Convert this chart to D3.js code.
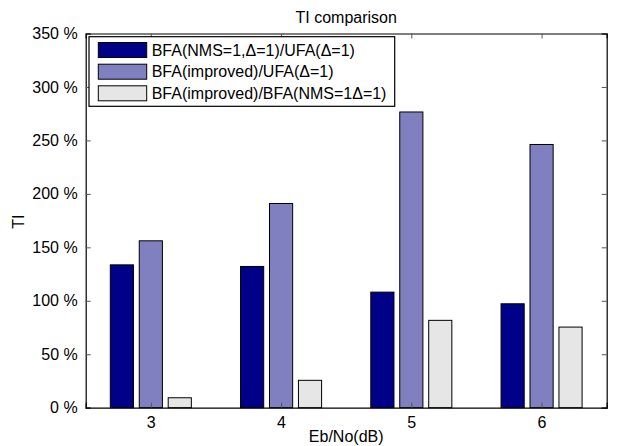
<!DOCTYPE html>
<html>
<head>
<meta charset="utf-8">
<script src="https://cdn.jsdelivr.net/npm/d3@7"></script>
<style>
  html, body { margin: 0; padding: 0; background: #fff; }
  text { font-family: "Liberation Sans", Arial, sans-serif; fill: #000; }
</style>
</head>
<body>
<svg id="chart" width="617" height="446"></svg>
<script>
// ---- data ----
const categories = [3, 4, 5, 6];
const seriesNames = [
  "BFA(NMS=1,\u0394=1)/UFA(\u0394=1)",
  "BFA(improved)/UFA(\u0394=1)",
  "BFA(improved)/BFA(NMS=1\u0394=1)"
];
const seriesNMSvsUFA = [133.6, 132.1, 108.1, 97.2];
const seriesImprovedVsUFA = [156.1, 191.0, 276.6, 246.2];
const seriesImprovedVsNMS = [9.3, 25.6, 81.7, 75.4];
const yTicks = [0, 50, 100, 150, 200, 250, 300, 350];
const seriesColors = ["#000088", "#8080c0", "#e6e6e6"];

const series = [seriesNMSvsUFA, seriesImprovedVsUFA, seriesImprovedVsNMS];

(function () {
// ---- layout ----
const svg = d3.select("#chart");
const mLeft = 85.7, mRight = 606.7, mTop = 33.5, mBottom = 407.7;
const fontSize = 16;

const x = d3.scaleLinear().domain([2.5, 6.5]).range([mLeft, mRight]);
const y = d3.scaleLinear().domain([0, 350]).range([mBottom, mTop]);

const groupWidth = 2 / 3;
const step = groupWidth / series.length;
const barW = step * 0.8;

// bars
series.forEach((vals, si) => {
  const off = (si - (series.length - 1) / 2) * step;
  svg.append("g").selectAll("rect").data(vals).join("rect")
    .attr("x", (d, i) => x(categories[i] + off - barW / 2))
    .attr("width", x(barW) - x(0))
    .attr("y", d => y(d))
    .attr("height", d => y(0) - y(d))
    .attr("fill", seriesColors[si])
    .attr("stroke", "#000")
    .attr("stroke-width", 1);
});

// axes box
const axisG = svg.append("g");
const tickLen = 5;
const fmt = d => d + " %";

const yAxisL = d3.axisLeft(y).tickValues(yTicks).tickSize(-tickLen).tickPadding(8).tickFormat(fmt);
const gL = axisG.append("g").attr("transform", `translate(${mLeft},0)`).call(yAxisL);
const yAxisR = d3.axisRight(y).tickValues(yTicks).tickSize(-tickLen).tickFormat("");
const gR = axisG.append("g").attr("transform", `translate(${mRight},0)`).call(yAxisR);
const xAxisB = d3.axisBottom(x).tickValues(categories).tickSize(-tickLen).tickPadding(9).tickFormat(d3.format("d"));
const gB = axisG.append("g").attr("transform", `translate(0,${mBottom})`).call(xAxisB);
const xAxisT = d3.axisTop(x).tickValues(categories).tickSize(-tickLen).tickFormat("");
const gT = axisG.append("g").attr("transform", `translate(0,${mTop})`).call(xAxisT);

[gL, gR, gB, gT].forEach(g => {
  g.select(".domain").attr("stroke", "#000").attr("stroke-width", 1.2);
  g.selectAll(".tick line").attr("stroke", "#555");
  g.selectAll("text").style("font-size", fontSize + "px").attr("fill", "#000")
    .style("font-family", "'Liberation Sans', Arial, sans-serif");
});

// title
svg.append("text").attr("x", (mLeft + mRight) / 2).attr("y", 23)
  .attr("text-anchor", "middle").style("font-size", fontSize + "px").text("TI comparison");
// x label
svg.append("text").attr("x", (mLeft + mRight) / 2).attr("y", 442)
  .attr("text-anchor", "middle").style("font-size", fontSize + "px").text("Eb/No(dB)");
// y label
svg.append("text").attr("transform", "translate(24,221.7) rotate(-90)")
  .attr("text-anchor", "middle").style("font-size", fontSize + "px").text("TI");

// legend
const lg = svg.append("g");
lg.append("rect").attr("x", 89).attr("y", 36.7).attr("width", 305.7).attr("height", 69.6)
  .attr("fill", "#fff").attr("stroke", "#000").attr("stroke-width", 1.2);
const rowY = [50, 71.7, 93.3];
seriesNames.forEach((name, i) => {
  lg.append("rect").attr("x", 98.3).attr("y", rowY[i] - 7.5).attr("width", 48.4).attr("height", 15)
    .attr("fill", seriesColors[i]).attr("stroke", "#000").attr("stroke-width", 1);
  lg.append("text").attr("x", 151.7).attr("y", rowY[i] + 5.7)
    .style("font-size", fontSize + "px").text(name);
});
})();
</script>
</body>
</html>
